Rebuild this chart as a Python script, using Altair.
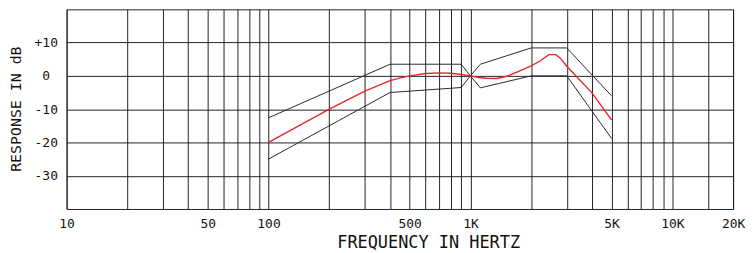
import altair as alt
import pandas as pd

# ---- data ----
grid_freqs = [10, 20, 30, 40, 50, 60, 70, 80, 90,
              100, 200, 300, 400, 500, 600, 700, 800, 900,
              1000, 2000, 3000, 4000, 5000, 6000, 7000, 8000, 9000,
              10000, 15000, 20000]
label_freqs = [10, 50, 100, 500, 1000, 5000, 10000, 20000]
label_texts = ["10", "50", "100", "500", "1K", "5K", "10K", "20K"]
db_grid = [-30, -20, -10, 0, 10]
db_texts = ["-30", "-20", "-10", "0", "+10"]

upper_freq = [100, 400, 900, 1000, 1120, 2000, 3000, 5000]
upper_db = [-12.6, 3.5, 3.5, 0, 3.5, 8.4, 8.4, -6.0]
lower_freq = [100, 400, 900, 1000, 1120, 2000, 3000, 5000]
lower_db = [-25.0, -5.0, -3.5, 0, -3.6, 0, 0, -18.8]
resp_freq = [100, 200, 300, 400, 450, 500, 600, 700, 800, 900, 1000,
             1100, 1200, 1350, 1500, 1700, 2000, 2200, 2450, 2650, 2780,
             3000, 4000, 5000]
resp_db = [-20, -10, -4.6, -1.4, -0.6, 0, 0.7, 0.9, 0.8, 0.4, 0,
           -0.5, -0.7, -0.8, -0.2, 1.1, 3.0, 4.4, 6.4, 6.4, 5.4,
           2.9, -5.1, -13.2]

tol = pd.DataFrame({
    "f": upper_freq + lower_freq,
    "db": upper_db + lower_db,
    "s": ["upper"] * len(upper_freq) + ["lower"] * len(lower_freq),
    "i": list(range(len(upper_freq))) + list(range(len(lower_freq))),
})
resp = pd.DataFrame({"f": resp_freq, "db": resp_db, "i": range(len(resp_freq))})

FONT = "DejaVu Sans Mono"


def lbl_expr(vals, texts):
    e = "''"
    for v, t in zip(reversed(vals), reversed(texts)):
        e = f"datum.value == {v} ? '{t}' : ({e})"
    return e


xscale = alt.Scale(type="log", domain=[10, 20000], nice=False)
yscale = alt.Scale(domain=[-40, 20], nice=False, zero=False)

xaxis = alt.Axis(values=grid_freqs, labelExpr=lbl_expr(label_freqs, label_texts),
                 labelOverlap=False, title="FREQUENCY IN HERTZ",
                 labelPadding=9, labelBaseline="top", labelAlign="center",
                 titleX=364, titleY=34, titleBaseline="middle", titleAlign="center",
                 titleFontSize=17, labelFlush=False)
yaxis = alt.Axis(values=db_grid, labelExpr=lbl_expr(db_grid, db_texts),
                 labelOverlap=False, title="RESPONSE IN dB",
                 labelPadding=21, labelAlign="center", labelBaseline="middle",
                 titleAngle=270, titleX=-51, titleY=100, titleFontSize=15,
                 titleAlign="center", titleBaseline="middle", labelFlush=False)

tol_chart = alt.Chart(tol).mark_line(color="#2a2a2a", strokeWidth=1).encode(
    x=alt.X("f:Q", scale=xscale, axis=xaxis),
    y=alt.Y("db:Q", scale=yscale, axis=yaxis),
    detail="s:N",
    order="i:Q",
)
resp_chart = alt.Chart(resp).mark_line(color="#e8262e", strokeWidth=1.4).encode(
    x=alt.X("f:Q", scale=xscale),
    y=alt.Y("db:Q", scale=yscale),
    order="i:Q",
)

chart = alt.layer(tol_chart, resp_chart).properties(
    width=671, height=201,
    autosize=alt.AutoSizeParams(type="none"),
    padding={"left": 59, "top": 0.5, "right": 14, "bottom": 46},
).configure_view(
    stroke="#222", strokeWidth=1
).configure_axis(
    domain=False, ticks=False, grid=True, gridColor="#222", gridOpacity=1,
    gridWidth=1, labelFont=FONT, labelFontSize=13, labelColor="#111",
    titleFont=FONT, titleFontWeight="normal", titleColor="#111",
)

chart.save("out.html", embed_options={"renderer": "svg", "actions": False})
